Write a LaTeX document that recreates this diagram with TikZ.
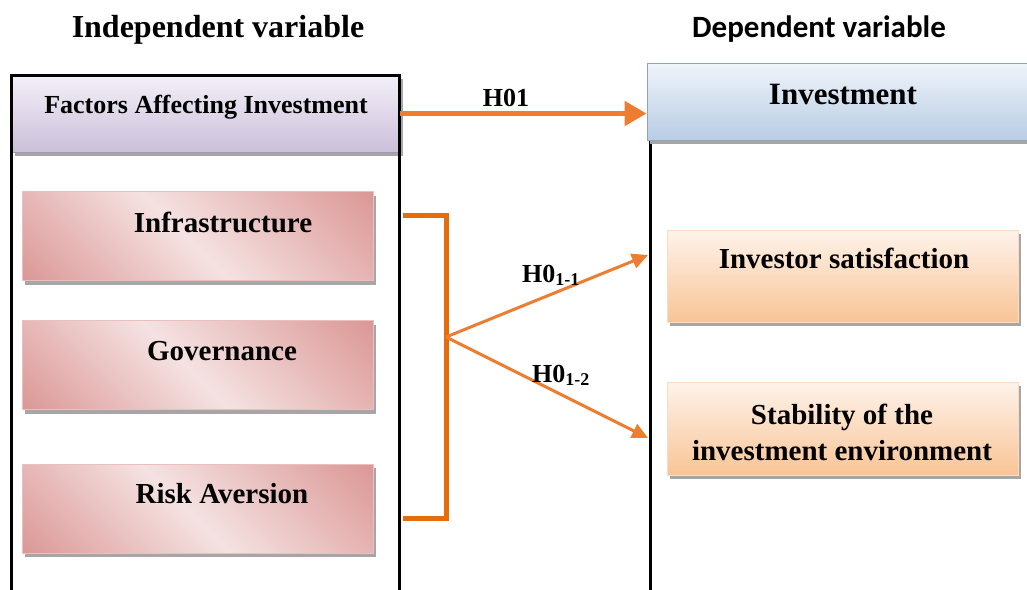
\documentclass[tikz,border=0pt]{standalone}
\usepackage{fontspec}
\setmainfont{Liberation Serif}
\newfontfamily\calfont{Carlito}
\usetikzlibrary{calc,arrows.meta,shadows}
\definecolor{pinkD}{HTML}{DA9694}
\definecolor{pinkL}{HTML}{F5E2E2}
\definecolor{lavT}{HTML}{F4F0F8}
\definecolor{lavB}{HTML}{CBBFDA}
\definecolor{bluT}{HTML}{F0F4FA}
\definecolor{bluB}{HTML}{B8CCE4}
\definecolor{pchT}{HTML}{FEF3EA}
\definecolor{pchB}{HTML}{F9C496}
\definecolor{orA}{HTML}{ED7D31}
\definecolor{orB}{HTML}{E46C0A}
\pgfdeclarehorizontalshading{pinkglow}{100bp}{color(0bp)=(pinkD); color(14bp)=(pinkD); color(48bp)=(pinkL); color(86bp)=(pinkD); color(100bp)=(pinkD)}
\tikzset{
  shad/.style={drop shadow={shadow xshift=3pt,shadow yshift=-4pt,fill=black!35,opacity=1}},
  headbox/.style={shad,line width=0.8pt,minimum height=77pt,inner sep=0pt},
  pinkbox/.style={shad,draw=pinkD!60,line width=0.8pt,shading=pinkglow,shading angle=45,minimum width=351pt,minimum height=89pt},
  peachbox/.style={shad,draw=pchB!60,line width=0.8pt,top color=pchT,bottom color=pchB,minimum width=351pt,minimum height=92pt},
  boxtxt/.style={font=\bfseries\fontsize{29}{36}\selectfont,inner sep=0pt},
  hyp/.style={font=\bfseries\fontsize{26}{30}\selectfont,inner sep=0pt,anchor=base west},
  frame/.style={line width=3pt,black},
  link/.style={orA,line width=3pt,-{Triangle[length=16pt,width=15pt]}}
}
\newcommand{\subh}[1]{\raisebox{-3pt}{\fontsize{18}{20}\selectfont #1}}
\begin{document}
\begin{tikzpicture}[x=1pt,y=-1pt]
\useasboundingbox (0,0) rectangle (1027,589);
% titles
\node[font=\bfseries\fontsize{32}{36}\selectfont,anchor=base] (indep) at (218,37) {Independent variable};
\node[font=\calfont\bfseries\fontsize{31}{36}\selectfont,anchor=base] (dep) at (819,37) {Dependent variable};
% independent side
\node[headbox,draw=lavB!80!black,top color=lavT,bottom color=lavB,minimum width=388pt] (fac) at (205.5,113.5) {};
\node[boxtxt,font=\bfseries\fontsize{26}{30}\selectfont,anchor=base] (facT) at (206,113) {Factors Affecting Investment};
\draw[frame] (11.5,600) -- (11.5,75) -- (399.5,75) -- (399.5,600);
\node[pinkbox] (infra) at (197.5,236) {};
\node[boxtxt,anchor=base] (infraT) at (223,232) {Infrastructure};
\node[pinkbox] (gov) at (197.5,365) {};
\node[boxtxt,anchor=base] (govT) at (222,360) {Governance};
\node[pinkbox] (risk) at (197.5,508.5) {};
\node[boxtxt,anchor=base] (riskT) at (222,503) {Risk Aversion};
% dependent side
\draw[frame] (650.5,130) -- (650.5,600);
\node[headbox,draw=bluB!80!black,top color=bluT,bottom color=bluB,minimum width=400pt] (inv) at (847,101.5) {};
\node[boxtxt,font=\bfseries\fontsize{31}{36}\selectfont,anchor=base] (invT) at (843,104) {Investment};
\node[peachbox] (sat) at (842.5,276) {};
\node[boxtxt,anchor=base] (satT) at (844,268) {Investor satisfaction};
\node[peachbox,minimum height=93pt] (stab) at (842.5,428.5) {};
\node[boxtxt,align=center] (stabT) at (842,432) {Stability of the\\investment environment};
% hypotheses
\draw[orA,line width=5pt,-{Triangle[length=22pt,width=24pt]}] (fac.east) -- (fac.east -| inv.west);
\node[hyp,anchor=base] (h01) at (506,106) {H01};
\coordinate (bt) at (403,215);
\coordinate (bb) at (403,518);
\coordinate (hub) at (446,337);
\coordinate (tip1) at (648,255);
\coordinate (tip2) at (648,438);
\draw[orB,line width=5pt] (bt) -- (bt -| hub) -- (bb -| hub) -- (bb);
\draw[link] (hub) -- (tip1);
\draw[link] (hub) -- (tip2);
\node[hyp] (h11) at (522,282) {H0\subh{1-1}};
\node[hyp] (h12) at (532,382) {H0\subh{1-2}};
\end{tikzpicture}
\end{document}
